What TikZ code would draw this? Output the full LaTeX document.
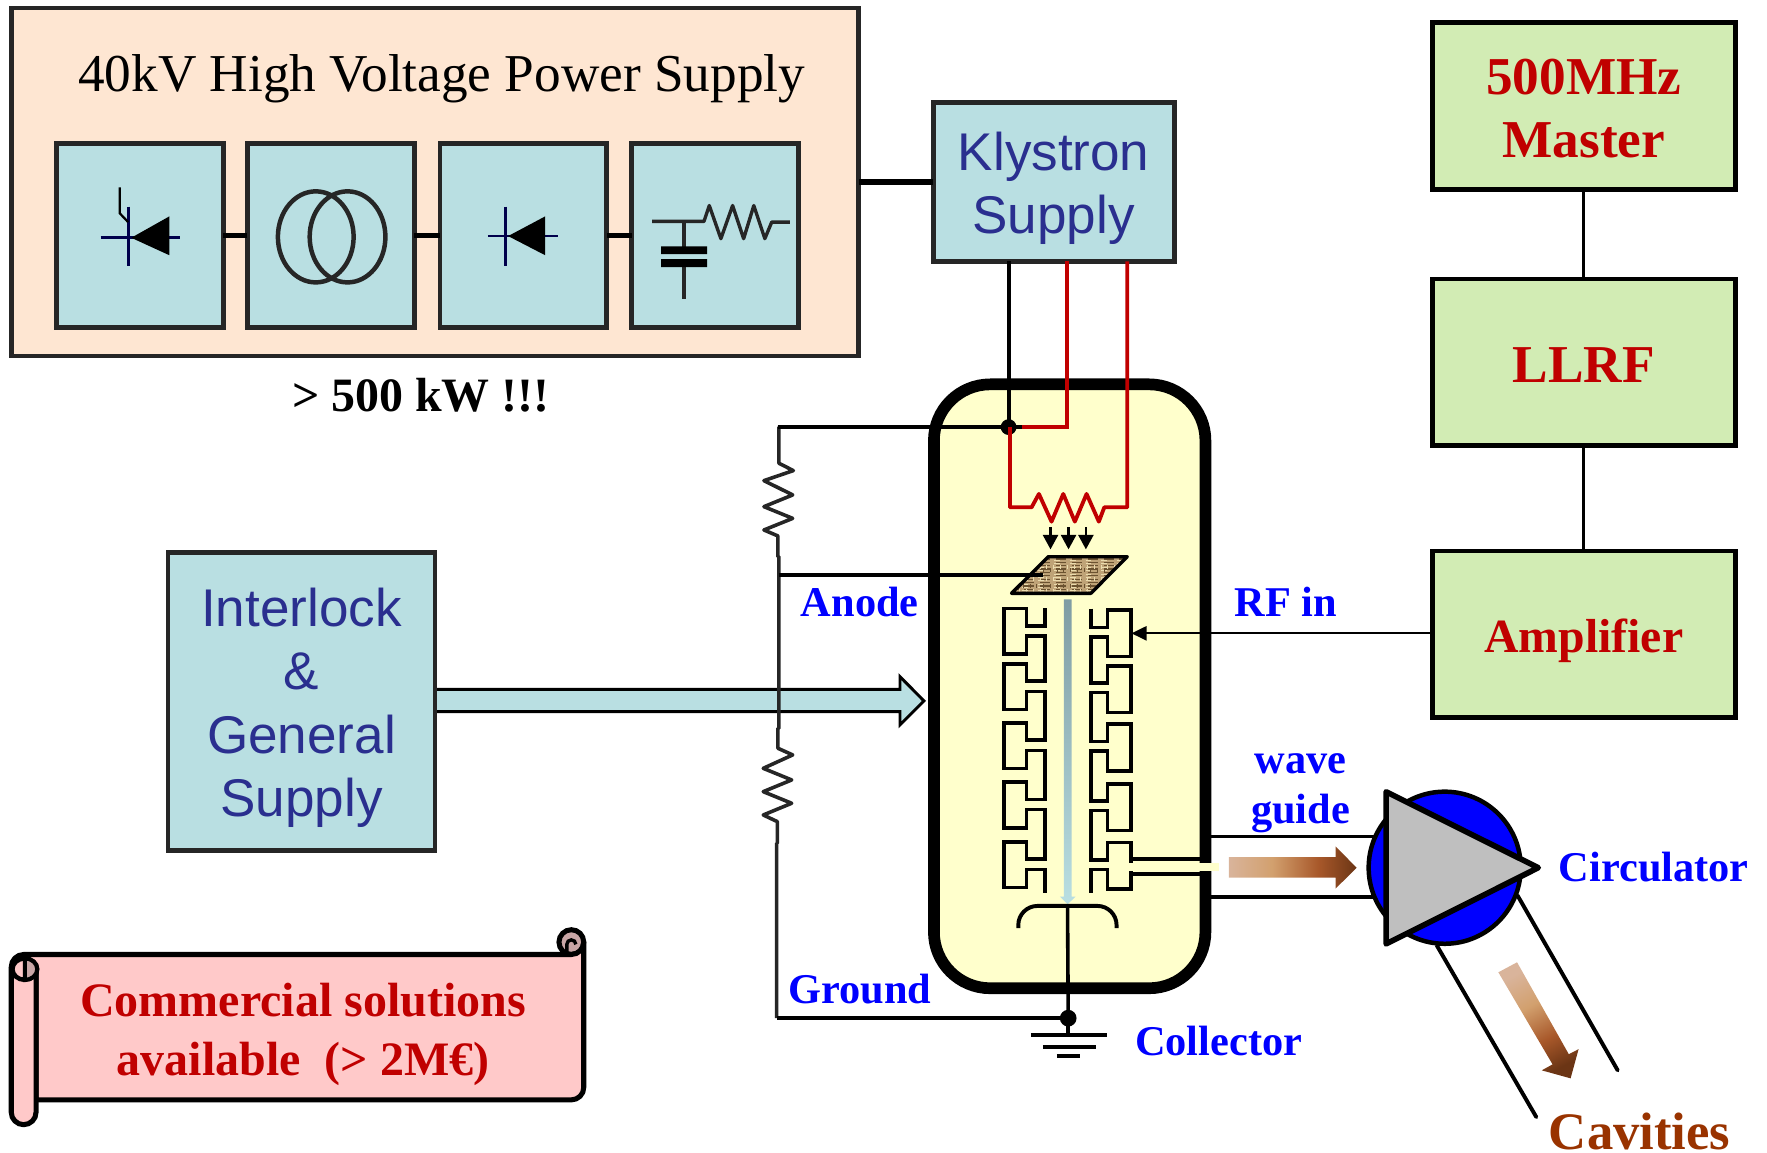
\documentclass[tikz,border=0pt]{standalone}
\usepackage{fontspec}
\setmainfont{Liberation Serif}
\newfontfamily\arialf{Liberation Sans}
\usetikzlibrary{calc}
\definecolor{peach}{HTML}{FEE6D2}
\definecolor{teal}{HTML}{B9DFE2}
\definecolor{lgreen}{HTML}{D2ECB4}
\definecolor{navy}{HTML}{2A2F8F}
\definecolor{dred}{HTML}{C00000}
\definecolor{tubey}{HTML}{FFFFCC}
\definecolor{dk}{HTML}{262626}
\definecolor{pinkb}{HTML}{FFC9C9}
\definecolor{pinkd}{HTML}{C9A6A6}
\definecolor{cav}{HTML}{993300}
\definecolor{cA}{HTML}{D9B49B}
\definecolor{cB}{HTML}{D2A06E}
\definecolor{cC}{HTML}{A8582A}
\definecolor{cD}{HTML}{6B3515}
\definecolor{wvbase}{HTML}{BFA377}
\definecolor{wvdark}{HTML}{6B5230}
\definecolor{wvlight}{HTML}{EADBAE}
\definecolor{beamtop}{HTML}{7F9CA3}
\pgfdeclarehorizontalshading{brw}{100bp}{color(0bp)=(cA);color(25bp)=(cA);color(42bp)=(cB);color(60bp)=(cC);color(75bp)=(cD);color(100bp)=(cD)}
\def\uu{0.567pt}
\tikzset{
  x=0.02cm,y=-0.02cm,
  lw/.style={line width=#1*\uu},
  inner/.style={draw=dk,fill=teal,lw=4.3,minimum width=2.96cm,minimum height=3.26cm,inner sep=0pt,outer sep=0pt},
  sbox/.style={draw=dk,fill=teal,lw=4.3,inner sep=0pt,outer sep=0pt},
  stext/.style={inner sep=0pt,align=center,text=navy,font=\arialf\fontsize{26.8}{31.9}\selectfont},
  gbox/.style={draw=black,fill=lgreen,lw=4.3,inner sep=0pt,outer sep=0pt,minimum width=5.38cm,minimum height=2.96cm},
  gtext/.style={inner sep=0pt,align=center,text=dred,font=\bfseries\fontsize{26.9}{32}\selectfont},
  blab/.style={text=blue,inner sep=0pt,font=\bfseries\fontsize{21.4}{25}\selectfont,align=center},
  wire/.style={draw=black,lw=3.4},
  sym/.style={draw=dk,lw=3},
  rwire/.style={draw=dred,lw=3.4},
}
\begin{document}
\begin{tikzpicture}
\useasboundingbox (0,0) rectangle (1568,1023);
% HV supply
\node[draw=dk,fill=peach,lw=4.3,minimum width=15.04cm,minimum height=6.18cm,inner sep=0pt,outer sep=0pt] (hv) at (386,161.5) {};
\node[inner sep=0pt,font=\fontsize{26.9}{32}\selectfont] (hvt) at (392,70) {40kV High Voltage Power Supply};
\node[inner] (b1) at (124,209) {};
\node[inner] (b2) at (293.5,209) {};
\node[inner] (b3) at (464.5,209) {};
\node[inner] (b4) at (634.5,209) {};
\draw[lw=4,draw=black] (b1.east)--(b2.west) (b2.east)--(b3.west) (b3.east)--(b4.west);
% thyristor
\draw[lw=2.5,draw=black!70!blue] (89.2,211)--(159.7,211) (113.7,183.3)--(113.7,236.2);
\fill[black] (116.5,211)--(150.3,192)--(150.3,226.5)--cycle;
\draw[lw=2,black] (106.2,166.2)--(106.2,189.2)--(113.7,197.1);
% transformer
\draw[lw=4,draw=dk] (280.2,210.2) ellipse [x radius=33.6,y radius=40.4];
\draw[lw=4,draw=dk] (308.4,210.2) ellipse [x radius=33.6,y radius=40.4];
% diode
\draw[lw=2.5,draw=black!70!blue] (433,209.5)--(495.5,209.5) (448.6,183.3)--(448.6,236.2);
\fill[black] (450.9,209.5)--(483.8,192)--(483.8,226.5)--cycle;
% RC
\draw[sym,line join=round] (578.7,196.5)--(624.7,196.5)--(629.4,182.4)--(639.7,211.8)--(650.1,182.4)--(659.9,211.8)--(668.9,182.4)--(678.7,211.8)--(684.8,197.1)--(700.8,197.1);
\draw[sym] (606.9,196.5)--(606.9,220.6) (606.9,233.9)--(606.9,265.3);
\fill[black] (586.7,218.6) rectangle (627.5,225.6) (586.7,230) rectangle (627.5,237);
\node[inner sep=0pt,font=\bfseries\fontsize{24.2}{29}\selectfont] (pw) at (373.5,351) {> 500 kW !!!};
% Klystron supply
\node[sbox,minimum width=4.28cm,minimum height=2.82cm] (kly) at (935,161.5) {};
\node[stext] (klyt) at (935,167) {Klystron\\Supply};
\draw[lw=4.6,draw=black] (hv.east |- kly.west)--(kly.west);
% right column
\node[gbox] (mast) at (1405.5,94) {};
\node[gtext] (mastt) at (1405.5,96.5) {500MHz\\Master};
\node[gbox] (llrf) at (1405.5,321.5) {};
\node[gtext] (llrft) at (1405.5,324) {LLRF};
\node[gbox] (amp) at (1405.5,563) {};
\node[gtext,font=\bfseries\fontsize{24.1}{29}\selectfont] (ampt) at (1405.5,569) {Amplifier};
\draw[lw=2.6,draw=black] (mast.south)--(llrf.north) (llrf.south)--(amp.north);
% interlock
\node[sbox,minimum width=4.74cm,minimum height=5.3cm] (il) at (267.5,622.5) {};
\node[stext] (ilt) at (267.5,628) {Interlock\\\&\\General\\Supply};
% tube
\node[draw=black,fill=tubey,lw=10.4,rounded corners=1cm,minimum width=4.82cm,minimum height=10.72cm,inner sep=0pt,outer sep=0pt] (tube) at (949.2,609) {};
% big arrow
\draw[draw=black,lw=2.6,fill=teal,miter limit=10] (388,611.7)--(798.6,611.7)--(798.6,600.4)--(819.9,622)--(798.6,643.3)--(798.6,631.5)--(388,631.5);
% divider rail
\coordinate (j1) at (895,379);
\coordinate (anj) at (691,510);
\coordinate (gnd) at (947.9,903.5);
\draw[draw=dk,lw=3.2,line join=round] (691.2,378.6)--(691.2,411.1)--(704,417.6)--(677.9,426.5)--(703.4,439.2)--(677.9,449.6)--(703.4,460)--(677.9,470.3)--(690.3,475.6)--(690.3,494)--(691.2,494)--(691.2,646.3)--(690.3,646.3)--(690.3,664)--(703.4,669.9)--(677.3,681.8)--(702.5,692.1)--(677.3,702.5)--(702.5,712.8)--(677.3,723.2)--(689.8,729.1)--(689.8,748.3)--(689.2,748.3)--(689.2,903.5);
\draw[wire] (690,379)--(j1);
\draw[wire] (689.2,903.5)--(gnd);
% klystron wires
\draw[wire] (kly.south -| j1)--(j1);
\fill[black] (j1) circle (7);
\draw[rwire,line join=miter] (kly.south -| 947,0)--(947,379)--(907,379);
\draw[wire] (896,379)--(907,379);
\draw[rwire,line join=round] (896.2,379)--(896.2,450.2)--(915.4,450.2)--(921.9,438.3)--(933.1,462.9)--(943.5,438.3)--(953.8,462.9)--(964.2,438.3)--(975.1,462.9)--(979.9,450.2)--(1000.3,450.2)--(kly.south -| 1000.3,0);
% electron arrows
\foreach \xa in {932.2,948.2,963.6}{
  \draw[lw=2,draw=black] (\xa,468)--(\xa,478);
  \fill[black] (\xa-7,474.6)--(\xa+7,474.6)--(\xa,487.4)--cycle;
}
% anode
\begin{scope}
\clip (930.2,494)--(1000.3,494)--(968,526.5)--(897.6,526.5)--cycle;
\fill[wvbase] (890,490) rectangle (1005,530);
\foreach \yy in {496,499,...,526}{
  \draw[draw=wvdark,lw=1.1,dash pattern=on 5pt off 3pt] (895,\yy)--(1003,\yy);
  \draw[draw=wvlight,lw=.9,dash pattern=on 3pt off 5pt] (893,\yy+1.4)--(1003,\yy+1.4);
}
\foreach \xx in {896,902,...,1002}{
  \draw[draw=wvdark,lw=.9,dash pattern=on 2pt off 6pt] (\xx,490)--(\xx,530);
  \draw[draw=wvlight,lw=.8,dash pattern=on 2pt off 4pt] (\xx+3,491)--(\xx+3,530);
}
\end{scope}
\draw[draw=black,lw=3,line join=round] (930.2,494)--(1000.3,494)--(968,526.5)--(897.6,526.5)--cycle;
\draw[wire] (anj)--(925.7,510);
% beam
\shade[top color=beamtop,bottom color=teal] (944,531.8)--(950.9,531.8)--(950.9,795.6)--(954.4,795.6)--(947.4,802.4)--(940.5,795.6)--(944,795.6)--cycle;
% cavities left
\draw[draw=black,lw=3.2,line join=miter] (927.2,539.8)
 \foreach \t in {540,589,641.5,694,747}{
   --(927.2,\t+15.4)--(911,\t+15.4)--(911,\t)--(890.8,\t)--(890.8,\t+40.5)--(911,\t+40.5)--(911,\t+24.5)--(927.2,\t+24.5)
 } --(927.2,792.6);
% cavities right
\draw[draw=black,lw=3.2,line join=miter] (968,540)
 \foreach \t in {541.3,590.9,642.7,695.6,747.7}{
   --(968,\t+15.4)--(982.8,\t+15.4)--(982.8,\t)--(1003.5,\t)--(1003.5,\t+41.4)--(982.8,\t+41.4)--(982.8,\t+23.7)--(968,\t+23.7)
 } --(968,792.6);
% RF arrow
\draw[lw=1.7,draw=black] (amp.west |- 0,562)--(1015,562);
\fill[black] (1004.1,562)--(1017.4,555.5)--(1017.4,568.5)--cycle;
% collector
\draw[draw=black,lw=3.5,rounded corners=0.34cm] (903.6,823.7)--(903.6,803.9)--(990.8,803.9)--(990.8,823.7);
\draw[draw=black,lw=3.2] (947.3,803.9)--(gnd);
\fill[black] (gnd) circle (7.4);
\draw[draw=black,lw=3.2] (gnd)--(947.9,918.3);
\draw[draw=black,lw=3.2] (914.8,918.3)--(982.2,918.3) (925.4,929)--(972.5,929) (937.9,937)--(958.3,937);
% waveguide
\draw[draw=black,lw=3.2] (1072,742.4)--(1226,742.4) (1072,796.2)--(1226,796.2);
\draw[draw=black,lw=4] (1002.6,762.2)--(1064.7,762.2) (1002.6,775.5)--(1064.7,775.5);
\fill[tubey] (1000.6,766) rectangle (1081.6,772.5);
\shade[shading=brw] (1090.5,760.5)--(1185.1,760.5)--(1185.1,751)--(1203.8,770)--(1185.1,788.6)--(1185.1,778.8)--(1090.5,778.8)--cycle;
% circulator
\draw[draw=black,lw=3.5,line cap=round] (1275,839)--(1363.3,991.3) (1346.6,794.6)--(1435.5,949.8);
\node[circle,draw=black,fill=blue,lw=4,minimum size=2.7cm,inner sep=0pt,outer sep=0pt] (circ) at (1282,770) {};
\draw[draw=black,fill=black!25!white,lw=5,line join=round] (1230,702.6)--(1365,770)--(1230,837.6)--cycle;
\shade[shading=brw,shading angle=-62] (1329.6,862.8)--(1346.2,853.9)--(1392.1,935.5)--(1400.8,931)--(1393.7,956.9)--(1368.1,949.8)--(1377.7,944.5)--cycle;
% labels
\node[blab] (an) at (763,534) {Anode};
\node[blab] (rf) at (1141,534) {RF in};
\node[blab] (wg) at (1154,704) {wave\\guide};
\node[blab,anchor=west] (ci) at (1383,769) {Circulator};
\node[blab] (gr) at (763,878) {Ground};
\node[blab,anchor=west] (co) at (1007,924) {Collector};
\node[inner sep=0pt,text=cav,font=\bfseries\fontsize{26.6}{32}\selectfont] (ca) at (1455,1004) {Cavities};
% scroll
\draw[draw=black,lw=4.5,fill=pinkd] (507,836) circle (11);
\draw[draw=black,lw=3] (503,847)--(503,838) arc[start angle=180,end angle=360,radius=4];
\draw[draw=black,lw=4.5,fill=pinkb,line join=round] (21,847)--(507,847) arc[start angle=90,end angle=0,radius=11]--(518,965) arc[start angle=0,end angle=90,radius=11] -- (32,976)--(32,860)--(10,858) arc[start angle=180,end angle=270,radius=11] -- cycle;
\draw[draw=black,lw=4.5,fill=pinkb] (10,858)--(10,987) arc[start angle=180,end angle=0,radius=11] --(32,860);
\draw[draw=black,lw=4,fill=pinkb] (22,860) ellipse [x radius=11,y radius=9.5];
\draw[draw=black,lw=3.5,fill=pinkd] (22,850.5) arc[start angle=-90,end angle=90,x radius=11,y radius=9.5] -- cycle;
\node[inner sep=0pt,text=dred,align=center,font=\bfseries\fontsize{24.25}{29.5}\selectfont] (sc) at (269,918) {Commercial solutions\\available\ \ (> 2M€)};
\end{tikzpicture}
\end{document}
